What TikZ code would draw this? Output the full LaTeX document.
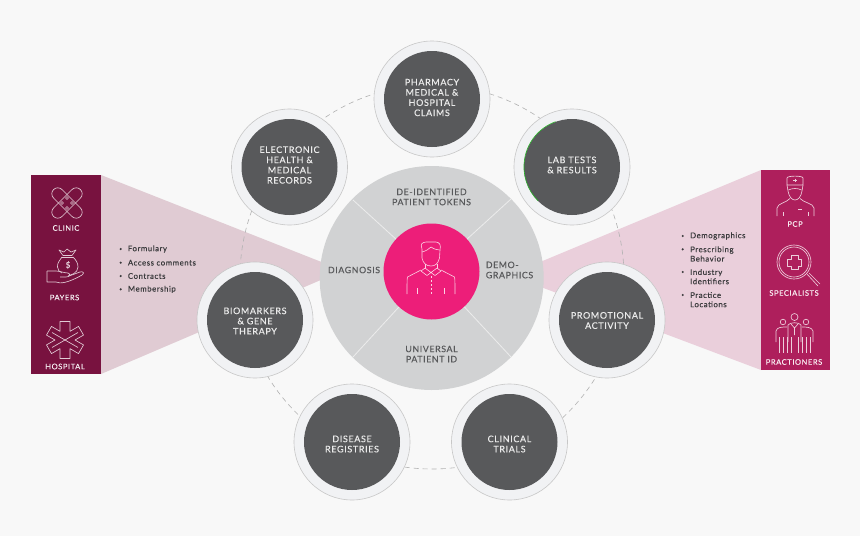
\documentclass[tikz,border=0pt]{standalone}
\usepackage{fontspec}
\setmainfont[LetterSpace=7,FakeBold=0.3]{Lato}
\usepackage{tikz}
\usetikzlibrary{positioning,calc,backgrounds}
\definecolor{cPage}{HTML}{F8F8F8}
\definecolor{cHalo}{HTML}{F1F2F4}
\definecolor{cDisc}{HTML}{D1D2D3}
\definecolor{cDark}{HTML}{58595B}
\definecolor{cPink}{HTML}{ED1E79}
\definecolor{cWine}{HTML}{78123F}
\definecolor{cWineBg}{HTML}{E0CBD3}
\definecolor{cRose}{HTML}{AE1F5C}
\definecolor{cRoseBg}{HTML}{EACFDB}
\definecolor{cInk}{HTML}{3A3A3C}

\begin{document}
\begin{tikzpicture}[
  x=1pt, y=-1pt,
  font=\fontsize{9}{10.2}\selectfont,
  ring/.style={circle, draw=black!22, line width=0.6pt, fill=cHalo, minimum size=116pt, inner sep=0pt},
  hub/.style={circle, fill=cDark, minimum size=96pt, inner sep=0pt},
  hubtext/.style={text=white!92!black, align=center, inner sep=0pt},
  seg/.style={text=cDark, align=center, inner sep=0pt, font=\fontsize{8.8}{10.2}\selectfont},
  side/.style={text=white!92!cWine, font=\fontsize{7.6}{9}\selectfont, inner sep=0pt},
  bullet/.style={text=cInk, align=left, anchor=west, font=\fontsize{7.8}{9.3}\selectfont},
  dot/.style={circle, fill=cInk, inner sep=0pt, minimum size=2.4pt},
  icon/.style={draw=white!78!cWine, line width=0.65pt, line join=round},
  iconr/.style={draw=white!78!cRose, line width=0.65pt, line join=round},
]
\useasboundingbox (0,0) rectangle (860,536);
\fill[cPage] (0,0) rectangle (860,536);

% ---------- wedges ----------
\coordinate (wl1) at (101,175);
\coordinate (wl2) at (101,374);
\coordinate (wr1) at (761,170);
\coordinate (wr2) at (761,370);
\fill[cWineBg] (wl1) -- (343,270.5) -- (wl2) -- cycle;
\fill[cRoseBg] (wr1) -- (509,275) -- (wr2) -- cycle;

% ---------- dashed ring ----------
\coordinate (orbit) at (432,277);
\draw[black!30, line width=0.6pt, dash pattern=on 5pt off 4pt] (orbit) circle (192);

% ---------- centre ----------
\node[circle, fill=cDisc, minimum size=224pt, inner sep=0pt] (disc) at (431.7,278) {};
\node[circle, fill=cPink, minimum size=96pt, inner sep=0pt] (face) at (431.5,271.5) {};
\coordinate (d1) at (353,200);
\coordinate (d2) at (511,199);
\coordinate (d3) at (353,357);
\coordinate (d4) at (511,357);
\foreach \c in {d1,d2,d3,d4}
  \draw[cPage!95!black, line width=0.8pt] (\c) -- (face);
\node[seg] (tokens) at (431.5,197) {DE-IDENTIFIED\\PATIENT TOKENS};
\node[seg] (upid) at (431.5,354) {UNIVERSAL\\PATIENT ID};
\node[seg] (diag) at (354,270) {DIAGNOSIS};
\node[seg, align=left] (demo) at (509.5,270) {DEMO-\\GRAPHICS};

% ---------- person ----------
\begin{scope}[draw=white!80!cPink, line width=0.6pt, line join=round]
  \draw (422,249) .. controls (420,244) and (422,242.5) .. (426,242) -- (436,242)
        .. controls (440,242.5) and (441,245) .. (440,250) -- (439.5,258)
        .. controls (438,264) and (435,266) .. (431,266)
        .. controls (426,266) and (423,263) .. (422,258) -- cycle;
  \draw (422,252) .. controls (426,251) and (429,249) .. (431,247) .. controls (434,249) and (437,250) .. (439.5,250);
  \draw (425,264) -- (425,268) (437,264) -- (437,268);
  \draw (421,270) -- (407.5,277) .. controls (407,279) and (407,284) .. (407,294);
  \draw (441,270) -- (454.5,277) .. controls (455,279) and (455,284) .. (455,294);
  \draw (425,268) -- (431,272.5) -- (437,268) -- (441,271) -- (435,275.5) -- (431,272.5) -- (427,275.5) -- (421,271) -- cycle;
  \draw (417,288) -- (417,294) (444,288) -- (444,294);
  \draw[dash pattern=on 1.5pt off 2.5pt] (431,276) -- (431,294);
\end{scope}

% ---------- satellites ----------
\foreach \n/\x/\y/\dy/\t in {
  pharm/432/99/-1.5/{PHARMACY\\MEDICAL \&\\HOSPITAL\\CLAIMS},
  ehr/289.5/167/-2/{ELECTRONIC\\HEALTH \&\\MEDICAL\\RECORDS},
  lab/572/167/-2/{LAB TESTS\\\& RESULTS},
  bio/255/320/1/{BIOMARKERS\\\& GENE\\THERAPY},
  promo/607/320/0.5/{PROMOTIONAL\\ACTIVITY},
  reg/352/442/2/{DISEASE\\REGISTRIES},
  trials/509.5/442/2/{CLINICAL\\TRIALS}}{
  \node[ring] (\n r) at (\x,\y) {};
  \node[hub] (\n) at (\x,\y) {};
  \node[hubtext] (\n t) at (\x,\y+\dy) {\t};
}
\draw[green!65!black!85, line width=0.6pt] (lab.110) arc (-110:-225:48);

% ---------- left panel ----------
\node[fill=cWine, minimum width=70pt, minimum height=199pt, inner sep=0pt] (panelL) at (66,274.5) {};
\node[side] (clinic) at (66,228) {CLINIC};
\node[side] (payers) at (64.5,297.5) {PAYERS};
\node[side] (hosp) at (65,366.5) {HOSPITAL};
% bandage
\begin{scope}[icon]
  \draw[rotate around={45:(67,203)}, rounded corners=6pt] (48,197) rectangle (86,209);
  \draw[rotate around={-45:(67,203)}, rounded corners=6pt] (48,197) rectangle (86,209);
  \foreach \a/\b in {67/198,62/203,72/203,67/208} \draw (\a,\b) circle (1.5);
\end{scope}
% money bag
\begin{scope}[icon]
  \draw (62,257) .. controls (60,260) and (57,263) .. (57.5,267) .. controls (58,270) and (59,272) .. (62,273);
  \draw (73,257) .. controls (76,260) and (78,263) .. (78,267) .. controls (78,270) and (76,272) .. (74,273.5) -- (68,276);
  \draw (62,257) -- (73,257) (63,255.5) -- (72,255.5);
  \draw (63,255.5) -- (59,250) -- (64,252) -- (67,249) -- (71,252) -- (76,250) -- (72,255.5);
  \draw (47,271) -- (56,271) .. controls (60,271) and (64,273) .. (68,273) .. controls (71,274) and (70,277) .. (66,277) -- (60,277);
  \draw (47,271) -- (47,282) -- (56,282) .. controls (60,284) and (68,283) .. (82,275) .. controls (85,273) and (83,271) .. (80,272) -- (69,276);
  \node[text=white!78!cWine, font=\fontsize{8}{8}\selectfont, inner sep=0pt] (dollar) at (68,265) {\$};
\end{scope}
% star of life
\begin{scope}[icon, shift={(65,340)}]
  \draw (120:10) \foreach \a in {90,30,-30,-90,-150,150} { -- ($(\a:18.5)+(\a+90:5)$) -- ($(\a:18.5)+(\a-90:5)$) -- (\a-30:10) } -- cycle;
  \draw (30:15) -- (210:15) (150:15) -- (-30:15);
\end{scope}

% ---------- right panel ----------
\node[fill=cRose, minimum width=69pt, minimum height=200pt, inner sep=0pt] (panelR) at (795.5,270) {};
\node[side, text=white!92!cRose] (pcp) at (795,224) {PCP};
\node[side, text=white!92!cRose] (spec) at (794,293) {SPECIALISTS};
\node[side, text=white!92!cRose] (pract) at (794,362) {PRACTIONERS};
% doctor
\begin{scope}[iconr]
  \draw (787,185) -- (787,178) .. controls (787,175.5) and (803,175.5) .. (803,178) -- (803,185) -- cycle;
  \draw (787,185) -- (788,191) .. controls (789,197) and (792,200) .. (795,200) .. controls (798,200) and (801,197) .. (802,191) -- (803,185);
  \draw (788.5,190) .. controls (792,188) and (798,188) .. (801.5,190);
  \draw (795,178.5) -- (795,182) (793.2,180.2) -- (796.8,180.2);
  \draw (777,216) -- (777,208) .. controls (778,203) and (786,203) .. (790,198.5);
  \draw (814,216) -- (814,208) .. controls (813,203) and (804,203) .. (800,198.5);
  \draw (783,212) -- (783,216) (808,212) -- (808,216) (798,209) -- (802,209);
\end{scope}
% magnifier
\begin{scope}[iconr]
  \draw (794,262) circle (17);
  \draw (794,262) circle (15);
  \draw (791,255) -- (798,255) -- (798,259) -- (801,259) -- (801,266) -- (798,266) -- (798,269) -- (791,269) -- (791,266) -- (787,266) -- (787,259) -- (791,259) -- cycle;
  \draw (807,274) -- (818,286) (809,273) -- (820,284);
\end{scope}
% team
\begin{scope}[iconr]
  \draw (794.5,317) circle (3.5) (783,322) circle (2.8) (806,322) circle (2.8);
  \draw (788,342) -- (788,325) .. controls (790,322) and (799,322) .. (801,325) -- (801,342);
  \draw (791,324) -- (794.5,328) -- (798,324) (794.5,328) -- (794.5,335);
  \draw (776,342) -- (776,331) .. controls (777,327) and (782,327) .. (787,327);
  \draw (813,342) -- (813,331) .. controls (812,327) and (806,327) .. (802,327);
  \foreach \xx in {779,783,787,791,798,802,806,810} \draw (\xx,337) -- (\xx,353);
\end{scope}

% ---------- lists ----------
\foreach \n/\y/\t in {fo/249/Formulary, ac/262.7/Access comments, co/276/Contracts, me/289.3/Membership}{
  \node[dot] (l\n) at (120.7,\y) {};
  \node[bullet] (t\n) at (124.4,\y) {\t};
}
\foreach \n/\y/\d/\t in {de/236/236/Demographics, pr/254/249.3/{Prescribing\\Behavior}, in/276.7/272/{Industry\\Identifiers}, pl/299.7/295/{Practice\\Locations}}{
  \node[dot] (r\n) at (682.7,\d) {};
  \node[bullet] (s\n) at (686.7,\y) {\t};
}
\end{tikzpicture}
\end{document}
